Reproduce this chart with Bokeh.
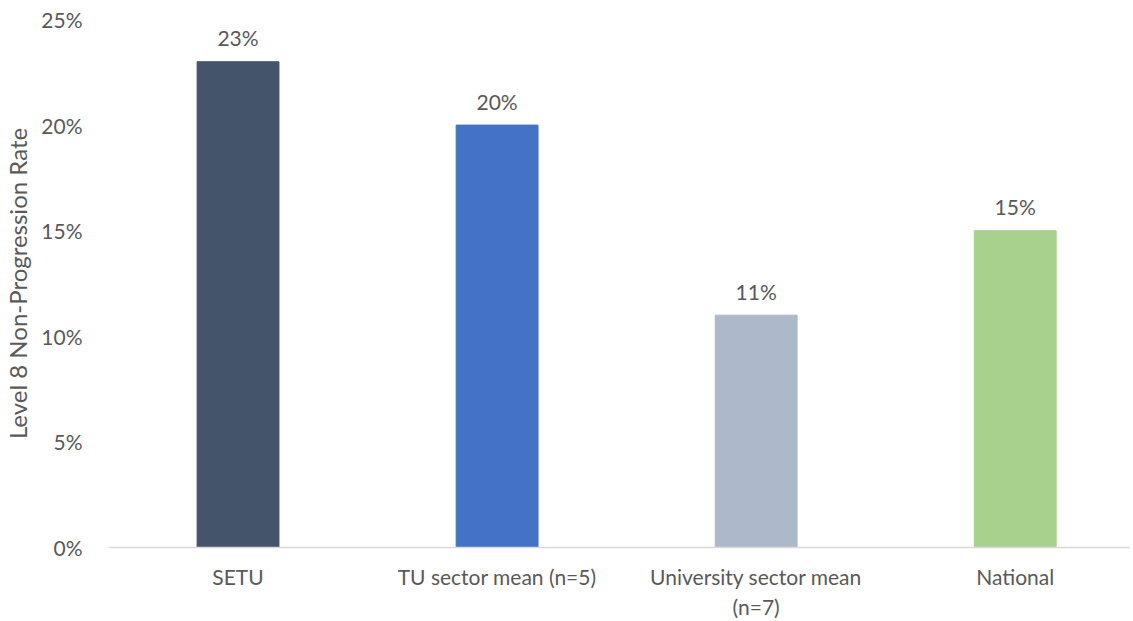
from bokeh.plotting import figure
from bokeh.models import ColumnDataSource, Range1d, FixedTicker, PrintfTickFormatter
from bokeh.core.properties import value
from bokeh.embed import file_html
from bokeh.resources import INLINE

categories = ["SETU", "TU sector mean (n=5)", "University sector mean\n(n=7)", "National"]
rates = [23, 20, 11, 15]
bar_colors = ["#44546A", "#4472C4", "#ADB9CA", "#A9D18E"]
y_ticks = [0, 5, 10, 15, 20, 25]

FONT = "Lato"
GRAY = "#595959"

xs = list(range(len(categories)))
src = ColumnDataSource(dict(x=xs, top=rates, color=bar_colors,
                            label=[f"{r}%" for r in rates]))

p = figure(width=1130, height=621, output_backend="svg", toolbar_location=None,
           x_range=Range1d(-0.5, 3.445), y_range=Range1d(0, 25),
           min_border_left=100, min_border_top=19, min_border_bottom=50, min_border_right=0)
p.outline_line_color = None
p.xgrid.visible = False
p.ygrid.visible = False

p.vbar(x="x", top="top", width=0.316, color="color", source=src)
p.text(x="x", y="top", text="label", source=src, text_align="center",
       text_baseline="alphabetic", y_offset=-24, text_color=GRAY,
       text_font=value(FONT), text_font_size="21px")

p.xaxis.ticker = FixedTicker(ticks=xs)
p.xaxis.major_label_overrides = {i: c for i, c in enumerate(categories)}
p.xaxis.major_tick_line_color = None
p.xaxis.minor_tick_line_color = None
p.xaxis.axis_line_color = "#D9D9D9"
p.xaxis.axis_line_width = 1.5
p.xaxis.major_label_standoff = 10
p.xaxis.major_label_text_font = FONT
p.xaxis.major_label_text_font_size = "21px"
p.xaxis.major_label_text_color = GRAY

p.yaxis.ticker = FixedTicker(ticks=y_ticks)
p.yaxis.formatter = PrintfTickFormatter(format="%d%%")
p.yaxis.major_tick_line_color = None
p.yaxis.minor_tick_line_color = None
p.yaxis.axis_line_color = None
p.yaxis.major_label_standoff = 20
p.yaxis.major_label_text_font = FONT
p.yaxis.major_label_text_font_size = "21px"
p.yaxis.major_label_text_color = GRAY
p.yaxis.axis_label = "Level 8 Non-Progression Rate"
p.yaxis.axis_label_text_font = FONT
p.yaxis.axis_label_text_font_size = "24px"
p.yaxis.axis_label_text_font_style = "normal"
p.yaxis.axis_label_text_color = GRAY
p.yaxis.axis_label_standoff = 6

open("out.html", "w").write(file_html(p, INLINE))
